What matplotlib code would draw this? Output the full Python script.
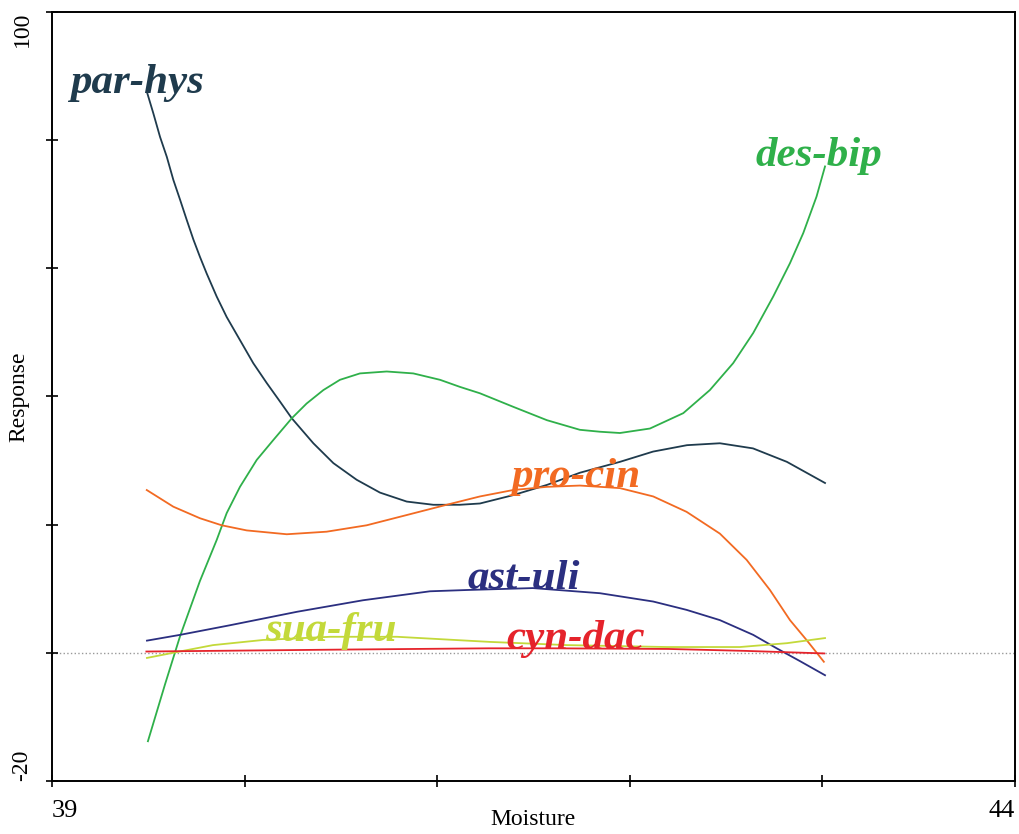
import numpy as np
from matplotlib import pyplot as plt

plt.rcParams['font.family'] = ['Liberation Serif', 'DejaVu Serif']

# read-off points (moisture, response) for each species
par_hys_x = [39.495, 39.526, 39.561, 39.596, 39.630, 39.665, 39.699, 39.734, 39.768, 39.803, 39.855, 39.907,
             39.976, 40.045, 40.115, 40.184, 40.245, 40.357, 40.461, 40.582, 40.703, 40.842, 40.980, 41.118,
             41.222, 41.394, 41.570, 41.741, 41.949, 42.121, 42.297, 42.468, 42.640, 42.816, 43.014]
par_hys_y = [87.3, 84.2, 80.5, 77.4, 73.8, 70.7, 67.6, 64.5, 61.8, 59.2, 55.6, 52.4,
             48.8, 45.2, 42.1, 39.2, 36.6, 32.7, 29.6, 27.0, 25.0, 23.6, 23.1, 23.1,
             23.3, 24.6, 26.2, 28.1, 29.8, 31.4, 32.4, 32.7, 31.9, 29.8, 26.5]

des_bip_x = [39.498, 39.587, 39.665, 39.768, 39.855, 39.907, 39.976, 40.063, 40.149, 40.245, 40.322,
             40.409, 40.495, 40.599, 40.738, 40.876, 41.015, 41.118, 41.222, 41.394, 41.570, 41.741, 41.845,
             41.949, 42.105, 42.278, 42.416, 42.537, 42.641, 42.745, 42.832, 42.901, 42.970, 43.014]
des_bip_y = [-13.8, -4.9, 2.6, 11.2, 17.6, 21.8, 25.9, 30.1, 33.2, 36.6, 38.9,
             41.0, 42.6, 43.6, 43.9, 43.6, 42.6, 41.5, 40.5, 38.4, 36.3, 34.8, 34.5,
             34.3, 35.0, 37.4, 41.0, 45.2, 49.9, 55.6, 60.8, 65.5, 71.2, 75.9]

pro_cin_x = [39.492, 39.630, 39.768, 39.881, 40.011, 40.219, 40.426, 40.634, 40.842, 41.049, 41.222, 41.394,
             41.570, 41.741, 41.949, 42.122, 42.295, 42.468, 42.607, 42.728, 42.832, 42.918, 43.008]
pro_cin_y = [25.4, 22.8, 21.0, 19.9, 19.1, 18.5, 18.9, 19.9, 21.5, 23.1, 24.4, 25.4,
             25.9, 26.1, 25.7, 24.4, 22.0, 18.6, 14.5, 9.8, 5.1, 2.0, -1.4]

ast_uli_x = [39.493, 39.665, 39.924, 40.272, 40.615, 40.963, 41.155, 41.497, 41.845, 42.122, 42.295, 42.468,
             42.641, 42.763, 42.884, 43.014]
ast_uli_y = [1.9, 2.8, 4.3, 6.4, 8.2, 9.6, 9.8, 10.1, 9.3, 8.0, 6.7, 5.1,
             2.8, 0.7, -1.3, -3.5]

sua_fru_x = [39.493, 39.628, 39.836, 40.095, 40.443, 40.791, 41.274, 41.674, 42.193, 42.572, 42.816, 43.014]
sua_fru_y = [-0.8, 0.0, 1.2, 2.0, 2.5, 2.5, 1.7, 1.2, 0.9, 0.9, 1.5, 2.3]

cyn_dac_x = [39.49, 40.5, 41.27, 41.6, 42.2, 42.6, 43.01]
cyn_dac_y = [0.2, 0.5, 0.7, 0.7, 0.6, 0.3, -0.1]

# label text, position, colour
species = ["par-hys", "des-bip", "pro-cin", "ast-uli", "sua-fru", "cyn-dac"]
colors = ["#1f3b4d", "#2fb04a", "#f26a22", "#2b2f80", "#c3d93a", "#e5232b"]
label_x = [39.44, 42.98, 41.72, 41.45, 40.45, 41.72]
label_y = [88.9, 77.5, 27.5, 11.5, 3.4, 2.2]

series = [(par_hys_x, par_hys_y), (des_bip_x, des_bip_y), (pro_cin_x, pro_cin_y),
          (ast_uli_x, ast_uli_y), (sua_fru_x, sua_fru_y), (cyn_dac_x, cyn_dac_y)]

fig = plt.figure(figsize=(10.2, 8.34), dpi=100)
ax = fig.add_axes([0.051, 0.0636, 0.944, 0.922])

ax.axhline(0, color="#999999", linestyle=":", linewidth=1, zorder=1)

for (xs, ys), c in zip(series, colors):
    ax.plot(xs, ys, color=c, linewidth=1.3, zorder=2, solid_joinstyle="round")

for name, c, lx, ly in zip(species, colors, label_x, label_y):
    ax.text(lx, ly, name, color=c, fontsize=31, fontweight="bold", fontstyle="italic",
            ha="center", va="center", zorder=3)

ax.set_xlim(39, 44)
ax.set_ylim(-20, 100)

ax.set_xticks([39, 40, 41, 42, 43, 44])
ax.set_xticklabels(["39", "", "", "", "", "44"], fontsize=19)
ax.set_yticks([-20, 0, 20, 40, 60, 80, 100])
ax.set_yticklabels(["-20", "", "", "", "", "", "100"], rotation=90, fontsize=17)
ax.tick_params(direction="inout", length=8, width=1.2)
ax.tick_params(axis="x", pad=10)
ax.tick_params(axis="y", pad=10)

xl = ax.get_xticklabels()
xl[0].set_ha("left")
xl[-1].set_ha("right")
yl = ax.get_yticklabels()
yl[0].set_va("bottom")
yl[-1].set_va("top")

for s in ax.spines.values():
    s.set_linewidth(1.4)

ax.set_xlabel("Moisture", fontsize=17, labelpad=-10)
ax.set_ylabel("Response", fontsize=17, labelpad=-13)

fig.savefig("out.png")
